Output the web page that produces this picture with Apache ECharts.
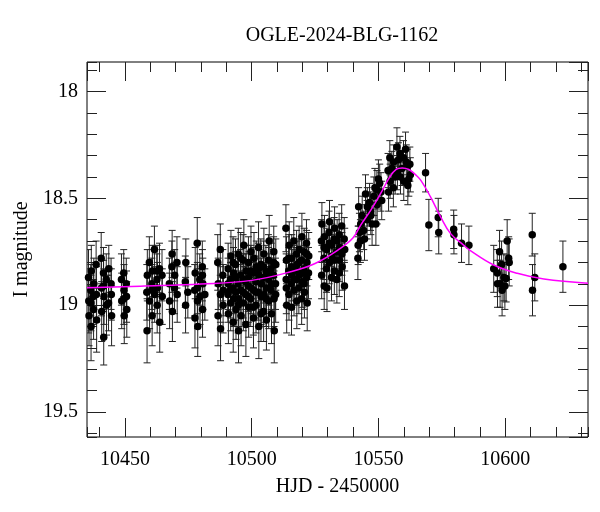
<!DOCTYPE html>
<html><head><meta charset="utf-8">
<script src="https://cdn.jsdelivr.net/npm/echarts@6/dist/echarts.min.js"></script>
<style>html,body{margin:0;padding:0;background:#fff}#c{width:600px;height:512px}</style>
</head><body><div id="c"></div>
<script>
// Observations: HJD-2450000, I magnitude, error
const hjd = [
10435.6,10435.7,10435.8,10436.5,10436.6,10436.7,10437.5,10437.6,10437.7,10438.6,10438.7,10438.8,
10440.6,10440.7,10440.8,10441.5,10441.6,10441.7,10442.6,10442.7,10443.5,10443.6,10444.5,10444.6,10444.7,
10448.6,10448.7,10449.5,10449.6,10449.7,10450.5,10450.6,10450.7,
10458.6,10458.7,10458.8,10459.6,10459.7,10460.6,10460.7,10460.8,10461.6,10461.7,10462.6,10462.7,10462.8,10463.6,10463.7,10464.6,10464.7,
10467.5,10467.6,10468.5,10468.6,10468.7,10469.5,10469.6,10470.5,10470.6,
10473.8,10473.9,10474.0,10474.8,10477.5,10477.6,10477.7,10478.5,10478.6,10478.7,10479.5,10479.6,10480.5,10480.6,10480.7,10481.5,
10486.6,10486.7,10486.8,10487.6,10487.7,10488.6,10488.7,10488.8,
10490.6,10490.7,10490.8,10491.6,10491.7,10491.8,10492.6,10492.7,10492.8,10492.9,10493.6,10493.7,10493.8,10494.6,10494.7,10494.8,10494.9,10495.6,10495.7,10495.8,10496.6,10496.7,10496.8,10496.9,10497.6,10497.7,10497.8,10498.6,10498.7,10498.8,10498.9,10499.6,10499.7,10499.8,10500.6,10500.7,10500.8,10500.9,10501.6,10501.7,10501.8,10502.6,10502.7,10502.8,10502.9,10503.6,10503.7,10503.8,10504.6,10504.7,10504.8,10504.9,10505.6,10505.7,10505.8,10506.6,10506.7,10506.8,10506.9,10507.6,10507.7,10507.8,10508.6,10508.7,10508.8,10508.9,10509.4,10509.5,
10513.5,10513.6,10513.7,10513.8,10514.6,10514.7,10514.8,10515.6,10515.7,10515.8,10515.9,10516.6,10516.7,10516.8,10517.6,10517.7,10517.8,10517.9,10518.6,10518.7,10518.8,10519.6,10519.7,10519.8,10519.9,10520.6,10520.7,10520.8,10521.6,10521.7,10521.8,10521.9,10522.4,10522.5,
10527.5,10527.6,10527.7,10528.5,10528.6,10528.7,10529.5,10529.6,10529.7,10530.5,10530.6,10530.7,10531.5,10531.6,10531.7,10532.5,10532.6,10532.7,10533.5,10533.6,10533.7,10534.5,10534.6,10534.7,10535.5,10535.6,10535.7,10536.5,10536.6,10536.7,
10541.9,10542.0,10542.2,10542.5,10542.9,10543.0,10543.6,10544.2,10544.5,10544.9,10545.5,10545.6,10546.5,10546.9,10547.0,10547.5,10548.2,10548.6,10549.0,10549.4,10549.5,10550.0,10550.5,10551.0,10551.3,
10553.8,10554.0,10554.5,10554.6,10555.3,10555.9,10556.0,10556.6,10557.3,10557.5,10557.9,10558.5,10558.7,10559.3,10559.9,10560.0,10560.7,10561.0,10561.4,10561.6,10562.0,10562.4,10562.6,
10568.6,10569.9,10573.6,10573.8,10579.7,10579.8,10582.8,10585.7,10595.5,10596.9,10597.0,10597.8,10598.0,10598.6,10598.8,10599.5,10599.9,10600.4,10600.8,10601.4,10601.6,10610.7,10610.8,10611.7,10622.8,
10490.65,10491.65,10492.65,10493.65,10494.65,10495.65,10496.65,10497.65,10498.65,10499.65,10500.65,10501.65,10502.65,10503.65,10504.65,10505.65,10506.65,10507.65,10508.65,10509.45,
10513.65,10514.65,10515.65,10516.65,10517.65,10518.65,10519.65,10520.65,10521.65,
10436.55,10441.55,10449.55,10460.65,10462.65,10478.55,10480.55,10487.65,
10528.55,10530.55,10532.55,10534.55
];
const mag = [
18.87,18.98,19.05,18.93,19.10,18.84,18.96,19.02,18.90,18.81,18.95,19.07,
18.78,18.92,19.03,18.85,19.15,18.96,18.88,19.00,18.99,18.83,18.90,18.95,19.05,
18.88,18.98,18.85,18.93,19.05,18.90,18.96,19.02,
18.94,19.12,18.86,18.80,18.98,18.90,19.05,18.84,18.74,18.95,18.88,19.00,18.92,18.83,19.08,18.86,18.96,
18.90,18.98,18.82,18.76,19.03,18.92,18.86,18.80,18.95,
18.89,19.00,18.80,18.94,18.93,19.06,18.85,18.71,18.98,19.10,18.88,18.96,18.82,19.02,18.90,18.95,
18.80,19.05,18.90,18.74,19.11,18.86,19.00,18.93,
18.95,18.83,19.04,18.88,18.99,18.77,18.92,19.08,18.85,18.97,18.81,18.94,19.02,18.90,18.76,19.12,18.97,18.86,18.93,19.05,18.79,18.99,18.88,18.72,18.95,19.09,18.84,18.91,18.80,19.01,18.87,18.97,18.75,18.92,18.85,19.06,18.93,18.78,18.89,19.00,18.82,18.94,18.73,19.10,18.86,18.81,18.96,18.90,18.87,19.03,18.76,18.95,18.84,18.92,19.07,18.79,18.98,18.88,18.70,18.93,18.83,19.04,18.86,18.75,18.97,19.12,18.90,18.81,
18.64,18.88,18.79,19.00,18.84,18.95,18.72,18.90,19.01,18.78,18.86,18.70,18.93,18.83,18.88,18.76,18.98,18.81,18.92,18.74,18.86,18.79,18.97,18.68,18.89,18.83,18.75,18.94,18.71,18.87,18.80,18.99,18.85,18.77,
18.70,18.86,18.62,18.78,18.91,18.68,18.83,18.74,18.92,18.66,18.80,18.61,18.87,18.72,18.77,18.69,18.84,18.64,18.75,18.88,18.70,18.67,18.79,18.73,18.63,18.76,18.82,18.69,18.91,18.74,
18.78,18.72,18.54,18.66,18.70,18.62,18.58,18.65,18.69,18.48,18.60,18.54,18.52,18.56,18.58,18.62,18.49,18.45,18.62,18.46,18.53,18.41,18.43,18.47,18.51,
18.37,18.47,18.31,18.42,18.36,18.45,18.33,18.40,18.26,18.38,18.32,18.29,18.40,18.36,18.31,18.42,18.27,18.33,18.35,18.44,18.41,18.34,18.39,
18.38,18.625,18.59,18.66,18.645,18.67,18.71,18.72,18.83,18.85,18.90,18.75,18.90,18.81,18.93,18.87,18.91,18.875,18.70,18.78,18.80,18.67,18.93,18.87,18.82,
18.90,18.93,18.80,18.87,19.00,18.78,18.94,18.89,18.96,18.84,19.01,18.94,18.83,19.04,18.82,18.97,18.85,18.90,18.80,18.95,
18.92,18.78,18.82,18.88,18.84,18.80,18.85,18.90,18.76,
18.99,18.91,18.97,18.93,18.84,18.92,18.86,18.95,
18.73,18.71,18.79,18.85
];
const err = [
0.13,0.15,0.14,0.12,0.16,0.12,0.13,0.14,0.12,0.11,0.13,0.15,
0.12,0.13,0.14,0.12,0.13,0.13,0.12,0.14,0.13,0.11,0.12,0.12,0.14,
0.12,0.13,0.11,0.12,0.13,0.12,0.12,0.13,
0.13,0.15,0.12,0.12,0.13,0.12,0.14,0.12,0.11,0.13,0.12,0.13,0.12,0.12,0.14,0.12,0.13,
0.12,0.13,0.12,0.11,0.14,0.12,0.12,0.12,0.13,
0.12,0.13,0.11,0.12,0.12,0.14,0.12,0.12,0.13,0.14,0.12,0.13,0.12,0.13,0.12,0.12,
0.13,0.14,0.12,0.12,0.15,0.12,0.13,0.12,
0.13,0.12,0.14,0.12,0.13,0.12,0.12,0.14,0.12,0.13,0.12,0.13,0.14,0.12,0.12,0.15,0.13,0.12,0.12,0.14,0.12,0.13,0.12,0.12,0.13,0.15,0.12,0.12,0.12,0.14,0.12,0.13,0.12,0.12,0.12,0.14,0.13,0.12,0.12,0.13,0.12,0.13,0.12,0.15,0.12,0.12,0.13,0.12,0.12,0.14,0.12,0.13,0.12,0.12,0.14,0.12,0.13,0.12,0.12,0.12,0.12,0.14,0.12,0.12,0.13,0.15,0.12,0.12,
0.11,0.12,0.11,0.13,0.11,0.12,0.11,0.12,0.13,0.11,0.12,0.11,0.12,0.11,0.12,0.11,0.13,0.11,0.12,0.11,0.12,0.11,0.12,0.11,0.12,0.11,0.11,0.12,0.11,0.12,0.11,0.13,0.12,0.11,
0.10,0.11,0.10,0.10,0.11,0.10,0.11,0.10,0.11,0.10,0.10,0.10,0.11,0.10,0.10,0.10,0.11,0.10,0.10,0.11,0.10,0.10,0.10,0.10,0.10,0.10,0.11,0.10,0.11,0.10,
0.10,0.09,0.09,0.09,0.10,0.09,0.09,0.09,0.10,0.09,0.09,0.09,0.09,0.09,0.09,0.10,0.09,0.09,0.10,0.09,0.09,0.09,0.09,0.09,0.09,
0.08,0.09,0.08,0.08,0.08,0.09,0.08,0.08,0.09,0.08,0.08,0.08,0.08,0.08,0.08,0.09,0.08,0.08,0.08,0.09,0.08,0.08,0.08,
0.09,0.12,0.09,0.10,0.09,0.09,0.09,0.09,0.11,0.11,0.11,0.10,0.11,0.11,0.12,0.11,0.11,0.11,0.10,0.10,0.11,0.10,0.12,0.11,0.12,
0.12,0.13,0.12,0.12,0.13,0.12,0.12,0.13,0.12,0.12,0.13,0.12,0.12,0.13,0.12,0.13,0.12,0.12,0.12,0.13,
0.12,0.11,0.11,0.12,0.11,0.11,0.12,0.12,0.11,
0.13,0.12,0.12,0.12,0.12,0.12,0.12,0.13,
0.10,0.10,0.10,0.11
];
// Model curve
const modelT = [10435,10456,10480,10500,10515,10525,10535,10540,10543,10547,10551,10554.5,10557,10559.4,10562,10564.5,10566.6,10570.5,10574.5,10578.4,10583.7,10586.3,10595.5,10604.8,10615.3,10632.7];
const modelM = [18.919,18.911,18.901,18.884,18.845,18.805,18.734,18.685,18.625,18.555,18.475,18.40,18.365,18.358,18.365,18.388,18.414,18.492,18.586,18.664,18.72,18.745,18.812,18.851,18.878,18.898];

const xMin = 10435, xMax = 10632.7;
const yMin = 17.862, yMax = 19.617;
const FONT = 'Liberation Serif';

const chart = echarts.init(document.getElementById('c'), null, {renderer: 'canvas'});

function xAx(pos, step, len, withLabel) {
  return {
    type: 'value', position: pos, min: xMin, max: xMax,
    minInterval: step, maxInterval: step,
    axisLine: {show: false},
    axisTick: {show: true, inside: true, length: len, lineStyle: {color: '#222', width: 1}},
    axisLabel: withLabel ? {show: true, showMinLabel: false, showMaxLabel: false, margin: 13,
      fontFamily: FONT, fontSize: 20, color: '#000', formatter: v => String(v)} : {show: false},
    splitLine: {show: false},
    name: withLabel ? 'HJD - 2450000' : '',
    nameLocation: 'middle', nameGap: 40,
    nameTextStyle: {fontFamily: FONT, fontSize: 20, color: '#000'}
  };
}
function yAx(pos, step, len, withLabel) {
  return {
    type: 'value', position: pos, min: yMin, max: yMax, inverse: true,
    minInterval: step, maxInterval: step,
    axisLine: {show: false},
    axisTick: {show: true, inside: true, length: len, lineStyle: {color: '#222', width: 1}},
    axisLabel: withLabel ? {show: true, showMinLabel: false, showMaxLabel: false, margin: 9,
      fontFamily: FONT, fontSize: 20, color: '#000', formatter: v => String(v)} : {show: false},
    splitLine: {show: false},
    name: withLabel ? 'I magnitude' : '',
    nameLocation: 'middle', nameGap: 52,
    nameTextStyle: {fontFamily: FONT, fontSize: 20, color: '#000'}
  };
}

const obs = hjd.map((t, i) => [t, mag[i], err[i]]);
const model = modelT.map((t, i) => [t, modelM[i]]);

chart.setOption({
  animation: false,
  backgroundColor: '#fff',
  title: {
    text: 'OGLE-2024-BLG-1162', left: 337, top: 21, textAlign: 'center',
    textStyle: {fontFamily: FONT, fontSize: 20, fontWeight: 'normal', color: '#000'}
  },
  grid: {left: 87, right: 12, top: 62, bottom: 75, show: true, borderColor: '#000', borderWidth: 1, backgroundColor: 'transparent'},
  xAxis: [xAx('bottom', 50, 19, true), xAx('bottom', 10, 10, false), xAx('top', 50, 19, false), xAx('top', 10, 10, false)],
  yAxis: [yAx('left', 0.5, 19, true), yAx('left', 0.1, 10, false), yAx('right', 0.5, 19, false), yAx('right', 0.1, 10, false)],
  series: [
    {
      type: 'custom', xAxisIndex: 0, yAxisIndex: 0, z: 1, clip: true,
      data: obs,
      encode: {x: 0, y: 1},
      renderItem: function (params, api) {
        const t = api.value(0), m = api.value(1), e = api.value(2);
        const p1 = api.coord([t, m - e]);
        const p2 = api.coord([t, m + e]);
        const c = 3.5;
        const st = {stroke: '#222', lineWidth: 1};
        return {
          type: 'group',
          children: [
            {type: 'line', shape: {x1: p1[0], y1: p1[1], x2: p2[0], y2: p2[1]}, style: st},
            {type: 'line', shape: {x1: p1[0] - c, y1: p1[1], x2: p1[0] + c, y2: p1[1]}, style: st},
            {type: 'line', shape: {x1: p2[0] - c, y1: p2[1], x2: p2[0] + c, y2: p2[1]}, style: st}
          ]
        };
      }
    },
    {
      type: 'scatter', xAxisIndex: 0, yAxisIndex: 0, z: 2,
      data: obs.map(d => [d[0], d[1]]),
      symbol: 'circle', symbolSize: 7.5,
      itemStyle: {color: '#000', opacity: 1}
    },
    {
      type: 'line', xAxisIndex: 0, yAxisIndex: 0, z: 3,
      data: model, smooth: 0.4, showSymbol: false, symbol: 'none',
      lineStyle: {color: '#ff00ff', width: 1.5}
    }
  ]
});
</script>
</body></html>
